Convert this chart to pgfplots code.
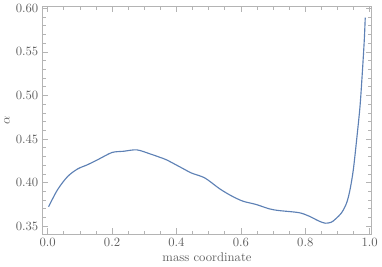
\documentclass[border=0pt]{standalone}
\usepackage{pgfplots}
\pgfplotsset{compat=1.18}
\definecolor{mmablue}{HTML}{5E81B5}
\definecolor{framegray}{HTML}{B4B4B4}
\definecolor{textgray}{HTML}{606060}
\begin{document}
\begin{tikzpicture}
\begin{axis}[
  scale only axis,
  width=259.6pt, height=179.8pt,
  xmin=-0.015, xmax=1.005, ymin=0.341, ymax=0.602,
  xtick={0,0.2,0.4,0.6,0.8,1.0},
  ytick={0.35,0.40,0.45,0.50,0.55,0.60},
  minor x tick num=3, minor y tick num=4,
  tick align=inside,
  major tick length=4.5pt, minor tick length=2.4pt,
  every tick/.style={framegray, line width=0.5pt},
  axis line style={framegray, line width=0.7pt},
  xticklabel style={/pgf/number format/.cd, fixed, fixed zerofill, precision=1},
  yticklabel style={/pgf/number format/.cd, fixed, fixed zerofill, precision=2},
  tick label style={textgray},
  label style={textgray},
  xlabel={mass coordinate},
  ylabel={$\alpha$},
  xlabel style={yshift=2pt},
  ylabel style={yshift=-2pt},
]
\addplot[mmablue, line width=0.9pt, smooth, tension=0.5] coordinates {
  (0.003,0.3724)(0.031,0.392)(0.062,0.407)(0.093,0.4157)(0.124,0.4206)
  (0.159,0.427)(0.200,0.4346)(0.236,0.436)(0.277,0.4376)(0.318,0.433)
  (0.349,0.429)(0.370,0.426)(0.411,0.418)(0.447,0.411)(0.488,0.4054)
  (0.534,0.393)(0.570,0.385)(0.606,0.3788)(0.647,0.375)(0.688,0.370)
  (0.718,0.368)(0.780,0.3656)(0.811,0.3617)(0.842,0.356)(0.862,0.3535)
  (0.880,0.3545)(0.893,0.358)(0.913,0.3656)(0.9286,0.377)(0.939,0.3921)
  (0.9492,0.4149)(0.9594,0.449)(0.9698,0.4869)(0.9769,0.525)(0.9831,0.5629)
  (0.9862,0.5893)
};
\end{axis}
\end{tikzpicture}
\end{document}
